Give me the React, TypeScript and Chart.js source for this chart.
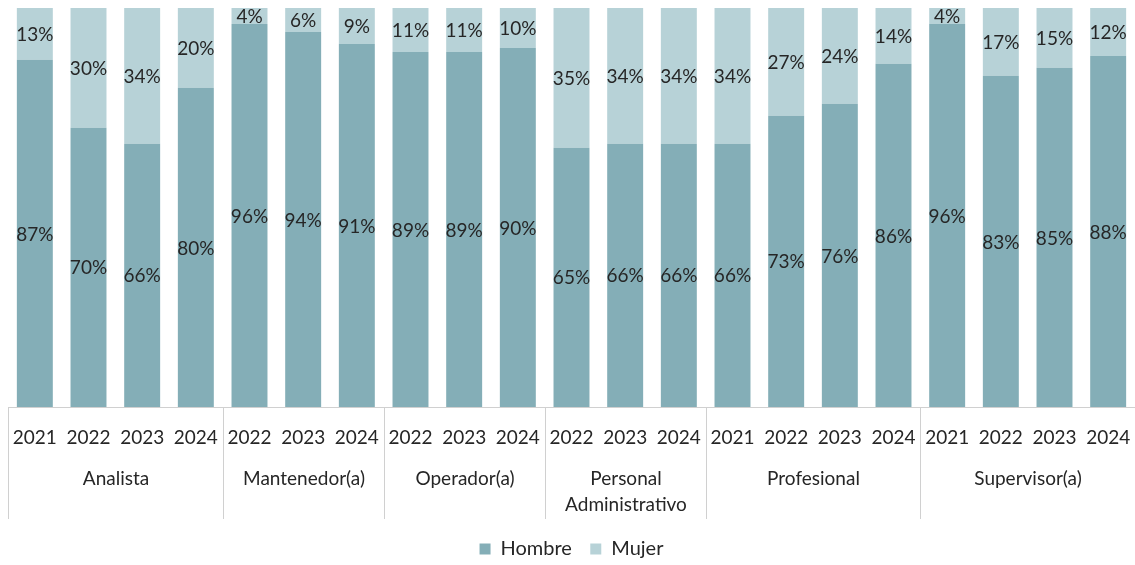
import React, { useEffect, useRef } from "react";
import { Chart, registerables } from "chart.js";
Chart.register(...registerables);

const groupLabelLines: string[][] = [
  ["Analista"],
  ["Mantenedor(a)"],
  ["Operador(a)"],
  ["Personal", "Administrativo"],
  ["Profesional"],
  ["Supervisor(a)"],
];
const groupYears: string[][] = [
  ["2021", "2022", "2023", "2024"],
  ["2022", "2023", "2024"],
  ["2022", "2023", "2024"],
  ["2022", "2023", "2024"],
  ["2021", "2022", "2023", "2024"],
  ["2021", "2022", "2023", "2024"],
];
const hombre = [87, 70, 66, 80, 96, 94, 91, 89, 89, 90, 65, 66, 66, 66, 73, 76, 86, 96, 83, 85, 88];
const mujer = [13, 30, 34, 20, 4, 6, 9, 11, 11, 10, 35, 34, 34, 34, 27, 24, 14, 4, 17, 15, 12];

const COLOR_H = "#84AEB7";
const COLOR_M = "#B7D2D7";
const TEXT = "#262626";
const FONT = "Lato";
const FS = 19;
const SEP_H = 112;
const AXIS_H = 125;
const LEGEND_SHIFT = 4;

const labels = groupYears.flat();

const groupPlugin = {
  id: "groupAxis",
  afterLayout(chart: any) {
    if (chart.legend) {
      chart.legend.top += LEGEND_SHIFT;
      chart.legend.bottom += LEGEND_SHIFT;
    }
  },
  afterDatasetsDraw(chart: any) {
    const ctx = chart.ctx;
    ctx.save();
    ctx.font = `${FS}px ${FONT}`;
    ctx.fillStyle = TEXT;
    ctx.textAlign = "center";
    ctx.textBaseline = "middle";
    chart.data.datasets.forEach((ds: any, di: number) => {
      const meta = chart.getDatasetMeta(di);
      meta.data.forEach((bar: any, i: number) => {
        const p = bar.getProps(["x", "y", "base"], true);
        ctx.fillText(ds.data[i] + "%", p.x, (p.y + p.base) / 2 + 1);
      });
    });
    ctx.restore();
  },
  afterDraw(chart: any) {
    const ctx = chart.ctx;
    const xs = chart.scales.x;
    const bottom = chart.chartArea.bottom;
    const half = (xs.getPixelForValue(1) - xs.getPixelForValue(0)) / 2;
    ctx.save();
    ctx.strokeStyle = "#d0d0d0";
    ctx.lineWidth = 1;
    let start = 0;
    const bounds: number[] = [];
    groupYears.forEach((g) => {
      bounds.push(Math.round(xs.getPixelForValue(start) - half) + 0.5);
      start += g.length;
    });
    bounds.push(Math.round(xs.getPixelForValue(start - 1) + half) + 0.5);
    bounds.forEach((bx) => {
      ctx.beginPath();
      ctx.moveTo(bx, bottom);
      ctx.lineTo(bx, bottom + SEP_H);
      ctx.stroke();
    });
    ctx.font = `${FS}px ${FONT}`;
    ctx.fillStyle = TEXT;
    ctx.textAlign = "center";
    ctx.textBaseline = "middle";
    labels.forEach((lb, i) => {
      ctx.fillText(lb, xs.getPixelForValue(i), bottom + 31);
    });
    groupLabelLines.forEach((lines, gi) => {
      const cx = (bounds[gi] + bounds[gi + 1]) / 2;
      lines.forEach((ln, li) => {
        ctx.fillText(ln, cx, bottom + 72 + li * 26);
      });
    });
    ctx.restore();
  },
};

export default function App() {
  const ref = useRef<HTMLCanvasElement | null>(null);
  useEffect(() => {
    if (!ref.current) return;
    const chart = new Chart(ref.current, {
      type: "bar",
      data: {
        labels,
        datasets: [
          { label: "Hombre", data: hombre, backgroundColor: COLOR_H, barPercentage: 0.67, categoryPercentage: 1 },
          { label: "Mujer", data: mujer, backgroundColor: COLOR_M, barPercentage: 0.67, categoryPercentage: 1 },
        ],
      },
      options: {
        animation: false,
        responsive: true,
        maintainAspectRatio: false,
        layout: { padding: { left: 8, top: 8, right: 0, bottom: 0 } },
        plugins: {
          legend: {
            position: "bottom",
            labels: {
              color: TEXT,
              font: { family: FONT, size: 20 },
              boxWidth: 11,
              boxHeight: 11,
              padding: 3,
              generateLabels: (chart: any) =>
                Chart.defaults.plugins.legend.labels
                  .generateLabels(chart)
                  .map((l: any, i: number) => ({ ...l, text: i === 0 ? l.text + "   " : l.text })),
            },
          },
          tooltip: { enabled: false },
        },
        scales: {
          x: {
            stacked: true,
            grid: { display: false, drawTicks: false },
            border: { display: true, color: "#d0d0d0", width: 1 },
            ticks: { display: false },
            afterFit: (scale: any) => {
              scale.height = AXIS_H;
            },
          },
          y: {
            stacked: true,
            display: false,
            min: 0,
            max: 100,
          },
        },
      },
      plugins: [groupPlugin],
    });
    return () => chart.destroy();
  }, []);
  return (
    <div style={{ position: "fixed", left: 0, top: 0, width: 1135, height: 565, background: "#fff" }}>
      <canvas ref={ref} />
    </div>
  );
}
